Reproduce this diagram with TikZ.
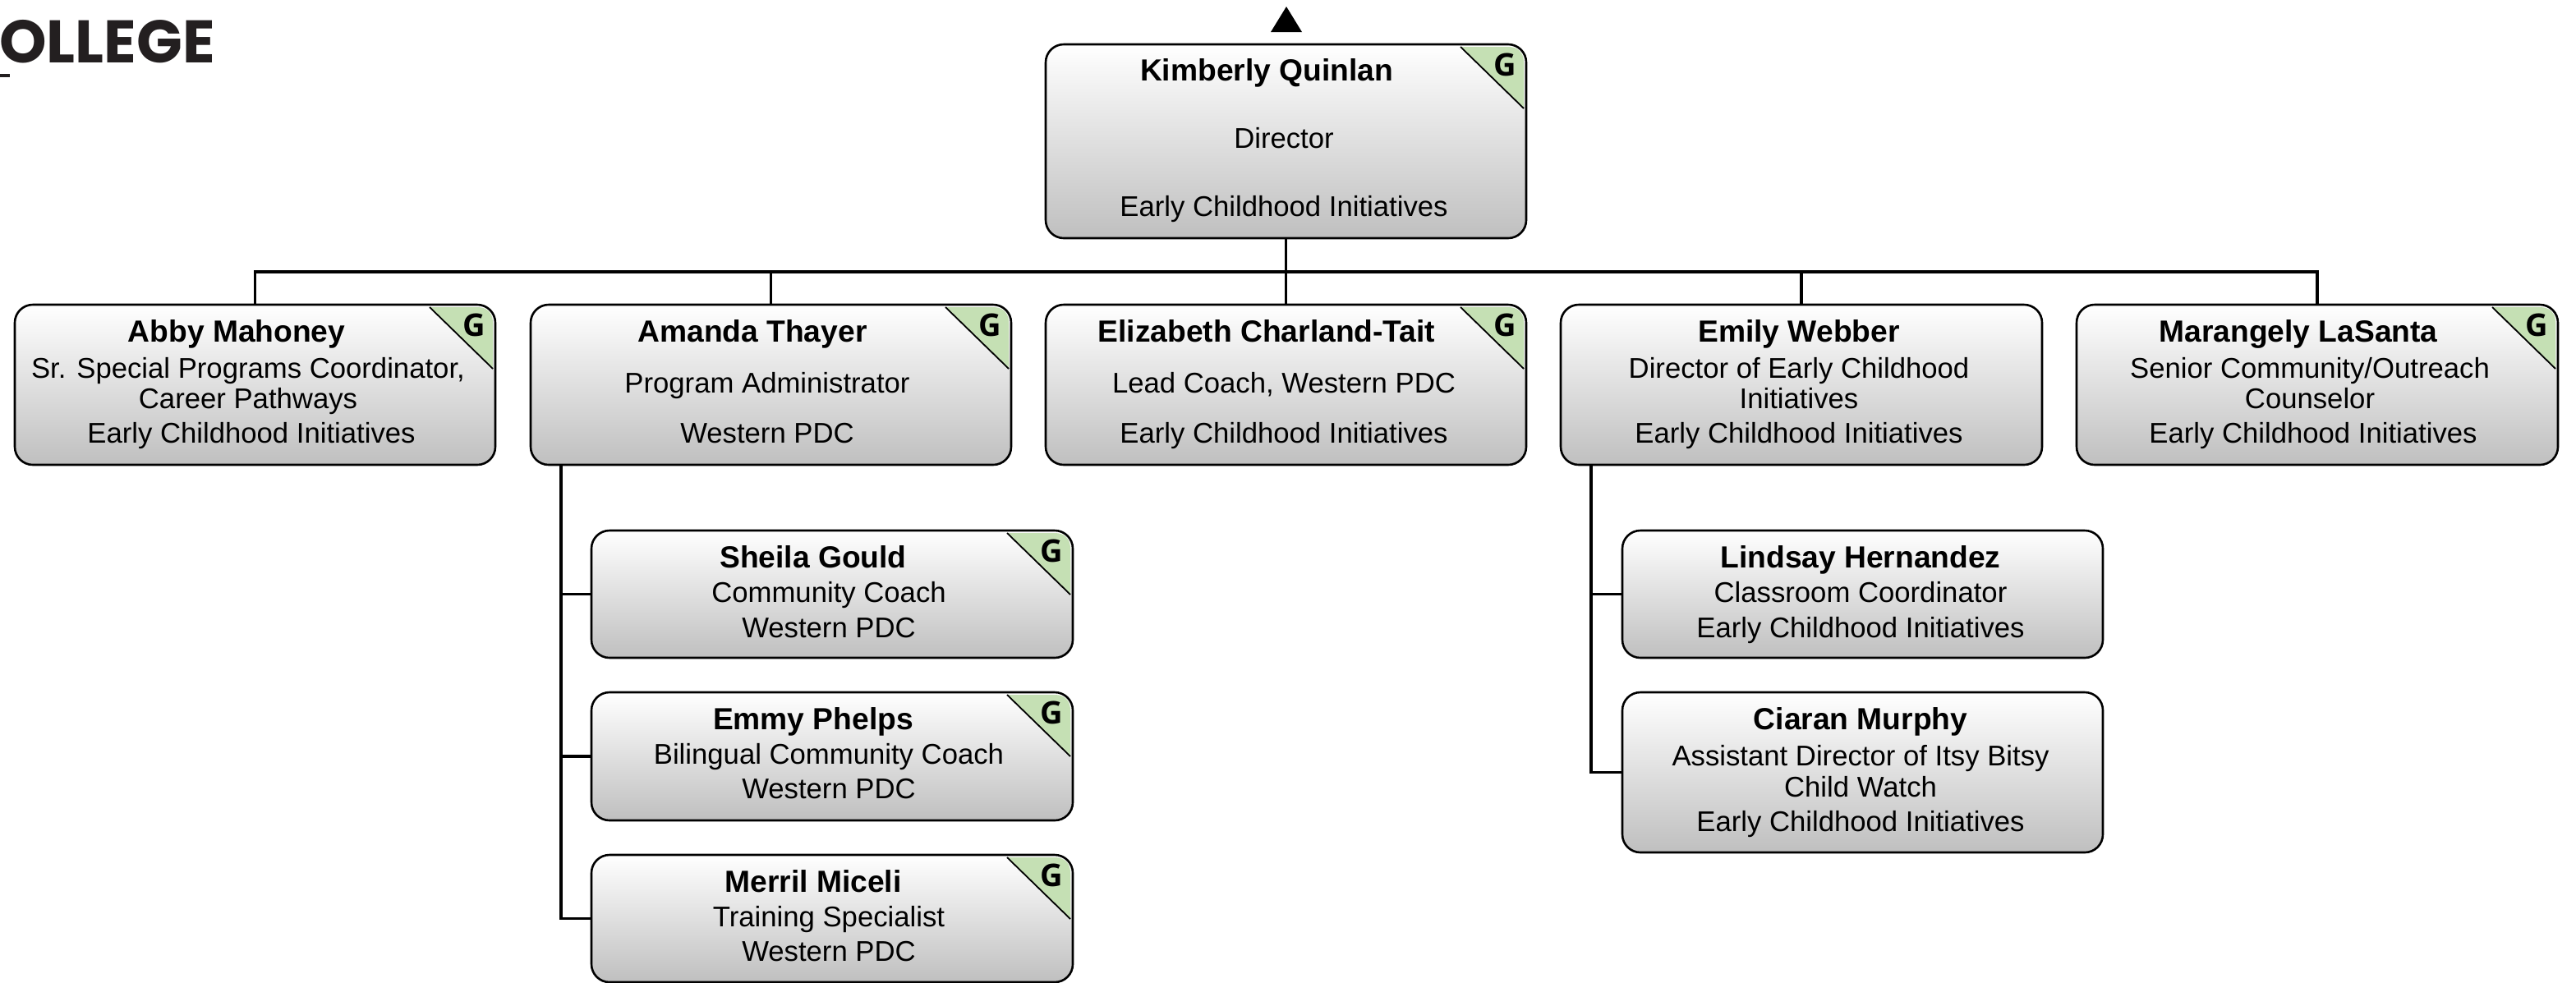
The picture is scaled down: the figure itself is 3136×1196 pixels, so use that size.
\documentclass[tikz,border=0pt]{standalone}
\usepackage{fontspec}
\setmainfont{Liberation Sans}
\newfontfamily\logofont{Poppins}
\newfontfamily\gfont{Open Sans}
\definecolor{gbad}{HTML}{C5E0B4}
\definecolor{logoink}{HTML}{231F20}
\tikzset{
  x=0.5pt,y=-0.5pt,
  orgbox/.style={draw=black,line width=1.3pt,rounded corners=11pt,top color=white,bottom color=black!25,inner sep=0pt},
  link/.style={draw=black,line width=1.6pt},
  nametxt/.style={anchor=base,inner sep=0pt,font=\fontsize{18.6pt}{20pt}\bfseries\selectfont},
  bodytxt/.style={anchor=base,inner sep=0pt,font=\fontsize{17.35pt}{20pt}\selectfont},
  gtxt/.style={inner sep=0pt,font=\fontsize{19pt}{20pt}\gfont\bfseries\selectfont},
  logotxt/.style={anchor=base west,inner sep=0pt,text=logoink,font=\fontsize{36.6pt}{36pt}\logofont\bfseries\selectfont}
}
% name, L, T, R, B
\newcommand{\orgnode}[5]{%
  \pgfmathsetmacro{\bw}{(#4-#2)*0.5}\pgfmathsetmacro{\bh}{(#5-#3)*0.5}%
  \node[orgbox,minimum width=\bw pt,minimum height=\bh pt] (#1) at ({(#2+#4)/2},{(#3+#5)/2}) {};}
% name, T, R
\newcommand{\gbadge}[3]{%
  \fill[gbad] ({#3-80},{#2+3}) -- ({#3-22},{#2+3}) .. controls ({#3-10},{#2+3}) and ({#3-3},{#2+10}) .. ({#3-3},{#2+22}) -- ({#3-3},{#2+78}) -- cycle;
  \draw[black,line width=0.9pt] ({#3-80},{#2+3}) -- ({#3-3},{#2+78});
  \node[gtxt] (#1) at ({#3-26},{#2+25}) {G};}
\newcommand{\nm}[4]{\node[nametxt] (#1) at (#2,#3) {#4};}
\newcommand{\bd}[4]{\node[bodytxt] (#1) at (#2,#3) {#4};}
\begin{document}
\begin{tikzpicture}
\useasboundingbox (0,0) rectangle (3136,1196);
% logo
\node[logotxt] (logo) at (-1,76) {OLLEGE};
\fill[logoink] (0,90) rectangle (12,94);
% up marker
\fill[black] (1547,39) -- (1566,8) -- (1585,39) -- cycle;
% boxes
\orgnode{kq}{1273}{54}{1858}{290}
\orgnode{ab}{18}{371}{603}{566}
\orgnode{am}{646}{371}{1231}{566}
\orgnode{el}{1273}{371}{1858}{566}
\orgnode{em}{1900}{371}{2486}{566}
\orgnode{ma}{2528}{371}{3114}{566}
\orgnode{sh}{720}{646}{1306}{801}
\orgnode{ep}{720}{843}{1306}{999}
\orgnode{me}{720}{1041}{1306}{1196}
\orgnode{li}{1975}{646}{2560}{801}
\orgnode{ci}{1975}{843}{2560}{1038}
% connectors
\coordinate (bus) at (1566,331);
\coordinate (amStem) at (683,566);
\coordinate (emStem) at (1937,566);
\draw[link] (kq.south) -- (el.north);
\draw[link] (ab.north) -- (ab.north |- bus) -- (ma.north |- bus) -- (ma.north);
\draw[link] (am.north) -- (am.north |- bus);
\draw[link] (em.north) -- (em.north |- bus);
\draw[link] (amStem) |- (me.west);
\draw[link] (amStem |- sh.west) -- (sh.west);
\draw[link] (amStem |- ep.west) -- (ep.west);
\draw[link] (emStem) |- (ci.west);
\draw[link] (emStem |- li.west) -- (li.west);
% badges
\gbadge{gkq}{54}{1858}
\gbadge{gab}{371}{603}
\gbadge{gam}{371}{1231}
\gbadge{gel}{371}{1858}
\gbadge{gma}{371}{3114}
\gbadge{gsh}{646}{1306}
\gbadge{gep}{843}{1306}
\gbadge{gme}{1041}{1306}
% text
\nm{kq1}{1542}{98}{Kimberly Quinlan}
\bd{kq2}{1563}{180}{Director}
\bd{kq3}{1563}{263}{Early Childhood Initiatives}
\nm{ab1}{288}{416}{Abby Mahoney}
\bd{ab2}{302}{460}{Sr. Special Programs Coordinator,}
\bd{ab3}{302}{497}{Career Pathways}
\bd{ab4}{306}{539}{Early Childhood Initiatives}
\nm{am1}{916}{416}{Amanda Thayer}
\bd{am2}{934}{478}{Program Administrator}
\bd{am3}{934}{539}{Western PDC}
\nm{el1}{1542}{416}{Elizabeth Charland-Tait}
\bd{el2}{1563}{478}{Lead Coach, Western PDC}
\bd{el3}{1563}{539}{Early Childhood Initiatives}
\nm{em1}{2190}{416}{Emily Webber}
\bd{em2}{2190}{460}{Director of Early Childhood}
\bd{em3}{2190}{497}{Initiatives}
\bd{em4}{2190}{539}{Early Childhood Initiatives}
\nm{ma1}{2798}{416}{Marangely LaSanta}
\bd{ma2}{2812}{460}{Senior Community/Outreach}
\bd{ma3}{2812}{497}{Counselor}
\bd{ma4}{2816}{539}{Early Childhood Initiatives}
\nm{sh1}{990}{691}{Sheila Gould}
\bd{sh2}{1009}{733}{Community Coach}
\bd{sh3}{1009}{776}{Western PDC}
\nm{ep1}{990}{888}{Emmy Phelps}
\bd{ep2}{1009}{930}{Bilingual Community Coach}
\bd{ep3}{1009}{972}{Western PDC}
\nm{me1}{990}{1086}{Merril Miceli}
\bd{me2}{1009}{1128}{Training Specialist}
\bd{me3}{1009}{1170}{Western PDC}
\nm{li1}{2265}{691}{Lindsay Hernandez}
\bd{li2}{2265}{733}{Classroom Coordinator}
\bd{li3}{2265}{776}{Early Childhood Initiatives}
\nm{ci1}{2265}{888}{Ciaran Murphy}
\bd{ci2}{2265}{932}{Assistant Director of Itsy Bitsy}
\bd{ci3}{2265}{970}{Child Watch}
\bd{ci4}{2265}{1012}{Early Childhood Initiatives}
\end{tikzpicture}
\end{document}
